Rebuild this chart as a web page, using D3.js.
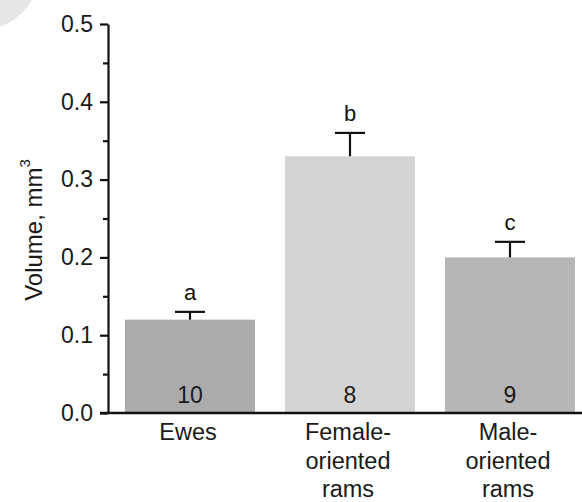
<!DOCTYPE html>
<html>
<head>
<meta charset="utf-8">
<script src="https://cdn.jsdelivr.net/npm/d3@7"></script>
<style>
  html, body { margin: 0; padding: 0; background: #fff; }
  svg { display: block; font-family: "Liberation Sans", Arial, sans-serif; }
</style>
</head>
<body>
<svg id="chart" width="582" height="502"></svg>
<script>
// Group means, standard errors, sample sizes and significance letters
const categories = ["Ewes", "Female-\noriented\nrams", "Male-\noriented\nrams"];
const means = [0.12, 0.33, 0.20];
const errors = [0.01, 0.03, 0.02];
const sampleSizes = ["10", "8", "9"];
const groupLetters = ["a", "b", "c"];
const barColors = ["#ababab", "#d4d4d4", "#b6b6b6"];
const majorTicks = [0, 0.1, 0.2, 0.3, 0.4, 0.5];
const minorTicks = [0.05, 0.15, 0.25, 0.35, 0.45];

const svg = d3.select("#chart");

// decorative corner disc
svg.append("circle")
  .attr("cx", -20).attr("cy", -30).attr("r", 60)
  .attr("fill", "#e6e6e6");

const y = d3.scaleLinear().domain([0, 0.5]).range([413, 24]);
const x = d3.scaleBand()
  .domain(categories)
  .range([110, 590])
  .paddingInner(0.1875)
  .paddingOuter(0.09375);

// bars
svg.append("g").selectAll("rect")
  .data(categories)
  .join("rect")
  .attr("x", d => x(d))
  .attr("width", x.bandwidth())
  .attr("y", (d, i) => y(means[i]))
  .attr("height", (d, i) => y(0) - y(means[i]))
  .attr("fill", (d, i) => barColors[i]);

// error bars (upper half only)
const eb = svg.append("g").attr("stroke", "#111").attr("stroke-width", 2.2);
categories.forEach((c, i) => {
  const cx = x(c) + x.bandwidth() / 2;
  eb.append("line")
    .attr("x1", cx).attr("x2", cx)
    .attr("y1", y(means[i])).attr("y2", y(means[i] + errors[i]));
  eb.append("line")
    .attr("x1", cx - 15).attr("x2", cx + 15)
    .attr("y1", y(means[i] + errors[i])).attr("y2", y(means[i] + errors[i]));
});

// significance letters
svg.append("g").selectAll("text")
  .data(categories)
  .join("text")
  .attr("x", d => x(d) + x.bandwidth() / 2)
  .attr("y", (d, i) => y(means[i] + errors[i]) - 12)
  .attr("text-anchor", "middle")
  .attr("font-size", 22)
  .attr("fill", "#111")
  .text((d, i) => groupLetters[i]);

// sample sizes inside bars
svg.append("g").selectAll("text")
  .data(categories)
  .join("text")
  .attr("x", d => x(d) + x.bandwidth() / 2)
  .attr("y", y(0) - 10)
  .attr("text-anchor", "middle")
  .attr("font-size", 23)
  .attr("fill", "#1a1a1a")
  .text((d, i) => sampleSizes[i]);

// y axis with major and minor ticks
const yAxis = svg.append("g")
  .attr("transform", "translate(108,0)")
  .call(d3.axisLeft(y).tickValues(majorTicks).tickSize(8).tickSizeOuter(0)
    .tickFormat(d3.format(".1f")).tickPadding(7));
yAxis.select(".domain").attr("stroke", "#111").attr("stroke-width", 2.2);
yAxis.selectAll(".tick line").attr("stroke", "#111").attr("stroke-width", 2.2);
yAxis.selectAll(".tick text")
  .attr("font-size", 23)
  .attr("font-family", "Liberation Sans, Arial, sans-serif")
  .attr("fill", "#1a1a1a");

const yMinor = svg.append("g")
  .attr("transform", "translate(108,0)")
  .call(d3.axisLeft(y).tickValues(minorTicks).tickSize(5).tickSizeOuter(0).tickFormat(""));
yMinor.select(".domain").remove();
yMinor.selectAll(".tick line").attr("stroke", "#111").attr("stroke-width", 2.2);

// x baseline
svg.append("line")
  .attr("x1", 100).attr("x2", 582)
  .attr("y1", y(0)).attr("y2", y(0))
  .attr("stroke", "#111").attr("stroke-width", 2.4);

// category labels (multi-line)
const xl = svg.append("g").selectAll("text")
  .data(categories)
  .join("text")
  .attr("text-anchor", "middle")
  .attr("font-size", 23.5)
  .attr("fill", "#1a1a1a")
  .attr("transform", d => `translate(${x(d) + x.bandwidth() / 2 - 2},440)`);
xl.each(function(d) {
  d3.select(this).selectAll("tspan")
    .data(d.split("\n"))
    .join("tspan")
    .attr("x", 0)
    .attr("y", (t, j) => j * 28.5)
    .text(t => t);
});

// y axis title
const yt = svg.append("text")
  .attr("transform", "translate(42,230) rotate(-90)")
  .attr("text-anchor", "middle")
  .attr("font-size", 24)
  .attr("fill", "#1a1a1a");
yt.append("tspan").text("Volume, mm");
yt.append("tspan").attr("font-size", 15).attr("dy", -12).text("3");
</script>
</body>
</html>
